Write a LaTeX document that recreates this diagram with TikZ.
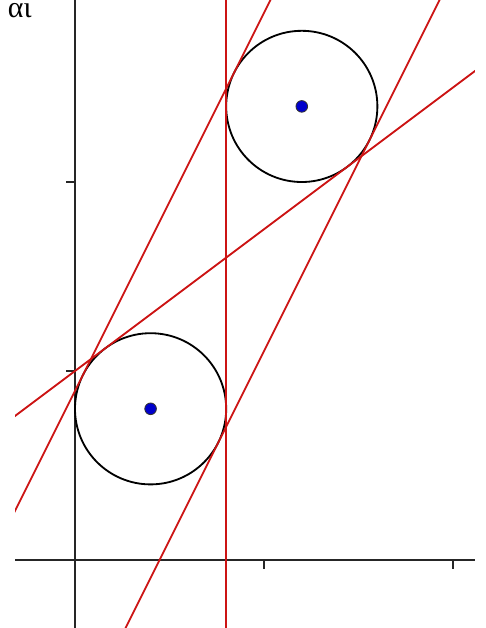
\documentclass[tikz,border=0pt]{standalone}
\usepackage{fontspec}
\newfontfamily\greekfont{Liberation Serif}
\usetikzlibrary{calc}
\definecolor{lineRed}{RGB}{204,20,20}
\definecolor{dotBlue}{RGB}{0,0,204}

\begin{document}
\begin{tikzpicture}[x=4cm,y=4cm,
  tangent/.style={lineRed, line width=1.1pt},
  circ/.style={black, line width=1.1pt},
  axis/.style={black!85, line width=0.9pt},
  centre/.style={circle, fill=dotBlue, draw=black!80, line width=0.5pt, inner sep=0pt, minimum size=7pt}]
\useasboundingbox (-0.3968,-0.3598) rectangle (2.1746,2.963);
\coordinate (A) at (0.4,0.8);
\coordinate (B) at (1.2,2.4);
\coordinate (M) at (0.8,1.6);
% axes
\draw[axis] (-0.317,0) -- (2.116,0);
\draw[axis] (0,-0.37) -- (0,2.97);
\foreach \t in {1,2} {
  \draw[axis] (\t,0) -- (\t,-0.045);
  \draw[axis] (0,\t) -- (-0.045,\t);
}
% circles
\draw[circ] (A) circle [radius=0.4];
\draw[circ] (B) circle [radius=0.4];
% common tangents
\begin{scope}
\clip (-0.317,-0.37) rectangle (2.116,2.97);
\draw[tangent] (0.8,-0.37) -- (0.8,2.97);
\draw[tangent] ($(M)+(-3,-2.25)$) -- ($(M)+(3,2.25)$);
\draw[tangent] ($(A)+(-0.3578,0.1789)+(-1,-2)$) -- ($(A)+(-0.3578,0.1789)+(2,4)$);
\draw[tangent] ($(A)+(0.3578,-0.1789)+(-1,-2)$) -- ($(A)+(0.3578,-0.1789)+(2,4)$);
\end{scope}
% centres
\node[centre] (cA) at (A) {};
\node[centre] (cB) at (B) {};
\node[anchor=base east, inner sep=0pt, text height=1.1ex, text depth=0pt,
  font=\greekfont\fontsize{18}{20}\selectfont] (caption) at (-0.2275,2.87) {αι};
\end{tikzpicture}
\end{document}
